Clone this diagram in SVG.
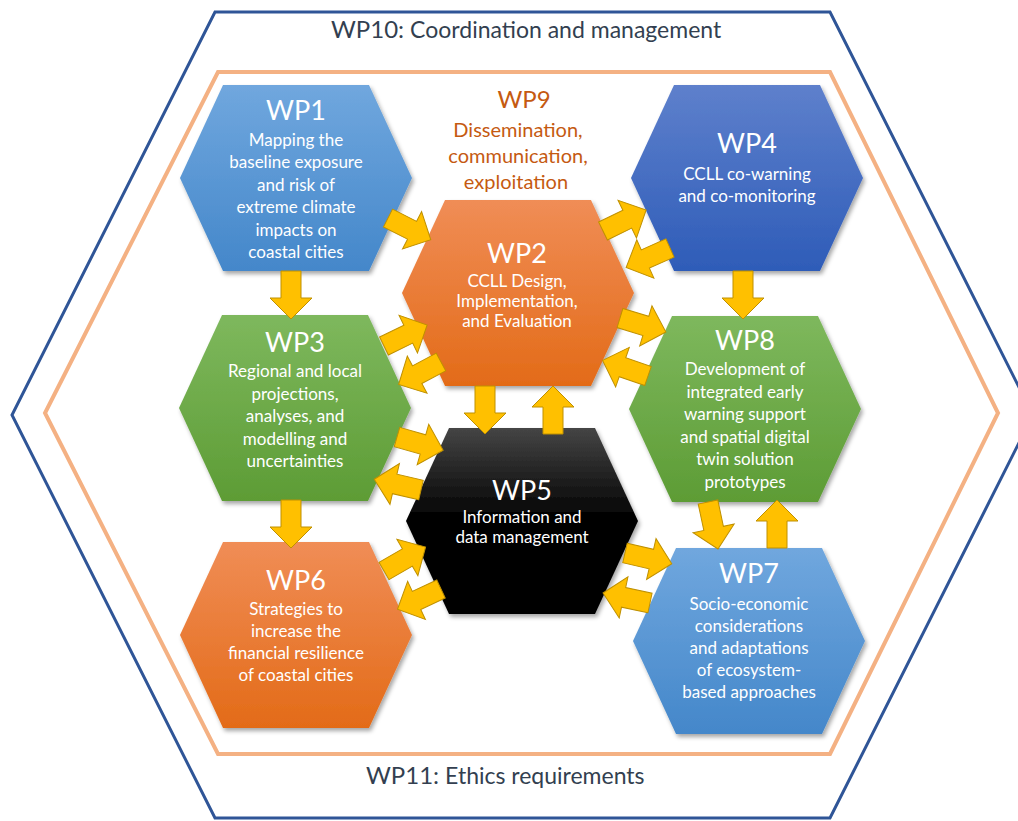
<svg xmlns="http://www.w3.org/2000/svg" xmlns:xlink="http://www.w3.org/1999/xlink" width="1018" height="821" viewBox="0 0 1018 821">
<style>
.frame{fill:none;stroke-linejoin:miter}
.outer{stroke:#2F5597;stroke-width:3}
.inner{stroke:#F4B183;stroke-width:4}
.hex{filter:url(#sh)}
.t{font-family:Lato,"Open Sans","Liberation Sans",sans-serif;fill:#fff;text-anchor:middle}
.ti{font-size:27px}
.b{font-size:17px}
.wp9{font-family:Lato,"Open Sans","Liberation Sans",sans-serif;fill:#C55A11;text-anchor:middle;font-size:20px}
.wp9t{font-size:24px}
.hdr{font-family:Lato,"Open Sans","Liberation Sans",sans-serif;fill:#333F50}
.arr{fill:#FFC000;stroke:#BF9000;stroke-width:1;stroke-linejoin:miter}
</style>
<defs>
<filter id="sh" x="-10%" y="-10%" width="125%" height="125%">
<feDropShadow dx="2" dy="3" stdDeviation="2" flood-color="#000" flood-opacity="0.35"/>
</filter>
<linearGradient id="gBlue" x1="0" y1="0" x2="0" y2="1"><stop offset="0" stop-color="#70A7DE"/><stop offset="1" stop-color="#4487CA"/></linearGradient>
<linearGradient id="gDark" x1="0" y1="0" x2="0" y2="1"><stop offset="0" stop-color="#5E80CC"/><stop offset="1" stop-color="#2E5CB8"/></linearGradient>
<linearGradient id="gOr" x1="0" y1="0" x2="0" y2="1"><stop offset="0" stop-color="#F08D56"/><stop offset="1" stop-color="#E36B18"/></linearGradient>
<linearGradient id="gGr" x1="0" y1="0" x2="0" y2="1"><stop offset="0" stop-color="#7EB85D"/><stop offset="1" stop-color="#5D9C35"/></linearGradient>
<linearGradient id="gBk" x1="0" y1="0" x2="0" y2="1"><stop offset="0" stop-color="#454545"/><stop offset="0.5" stop-color="#000"/><stop offset="1" stop-color="#000"/></linearGradient>
<path id="arr" d="M0,-10 H27 V-21 L48,0 L27,21 V10 H0 Z"/>
</defs>

<g id="frames">
<polygon class="frame outer" points="215,12 830,12 1033,415 830,818 215,818 12,415"/>
<polygon class="frame inner" points="218,72 830,72 998,413 830,754 218,754 45,413"/>
<text class="hdr" x="331" y="38" font-size="24">WP10:<tspan font-size="23" dx="6">Coordination and management</tspan></text>
<text class="hdr" x="366" y="784" font-size="24">WP11:<tspan font-size="23" dx="6">Ethics requirements</tspan></text>
</g>

<g id="wp9">
<text class="wp9 wp9t" x="524" y="108">WP9</text>
<text class="wp9" x="518" y="137">Dissemination,</text>
<text class="wp9" x="518" y="163">communication,</text>
<text class="wp9" x="516" y="189">exploitation</text>
</g>

<g id="wp1">
<polygon class="hex" fill="url(#gBlue)" points="180,178 223,85 369,85 412,178 369,271 223,271"/>
<text class="t ti" x="296" y="120">WP1</text>
<text class="t b" x="296" y="146">Mapping the</text>
<text class="t b" x="296" y="168.4">baseline exposure</text>
<text class="t b" x="296" y="190.8">and risk of</text>
<text class="t b" x="296" y="213.2">extreme climate</text>
<text class="t b" x="296" y="235.6">impacts on</text>
<text class="t b" x="296" y="258">coastal cities</text>
</g>

<g id="wp2">
<polygon class="hex" fill="url(#gOr)" points="402,293 445,200 591,200 634,293 591,386 445,386"/>
<text class="t ti" x="517" y="263">WP2</text>
<text class="t b" x="517" y="287">CCLL Design,</text>
<text class="t b" x="517" y="307">Implementation,</text>
<text class="t b" x="517" y="327">and Evaluation</text>
</g>

<g id="wp4">
<polygon class="hex" fill="url(#gDark)" points="631,178 674,85 820,85 863,178 820,271 674,271"/>
<text class="t ti" x="747" y="153">WP4</text>
<text class="t b" x="747" y="180">CCLL co-warning</text>
<text class="t b" x="747" y="202">and co-monitoring</text>
</g>

<g id="wp3">
<polygon class="hex" fill="url(#gGr)" points="179,408 222,315 368,315 411,408 368,501 222,501"/>
<text class="t ti" x="295" y="352">WP3</text>
<text class="t b" x="295" y="377">Regional and local</text>
<text class="t b" x="295" y="399.5">projections,</text>
<text class="t b" x="295" y="422">analyses, and</text>
<text class="t b" x="295" y="444.5">modelling and</text>
<text class="t b" x="295" y="467">uncertainties</text>
</g>

<g id="wp8">
<polygon class="hex" fill="url(#gGr)" points="629,409 672,316 818,316 861,409 818,502 672,502"/>
<text class="t ti" x="745" y="350">WP8</text>
<text class="t b" x="745" y="375">Development of</text>
<text class="t b" x="745" y="397.5">integrated early</text>
<text class="t b" x="745" y="420">warning support</text>
<text class="t b" x="745" y="442.5">and spatial digital</text>
<text class="t b" x="745" y="465">twin solution</text>
<text class="t b" x="745" y="487.5">prototypes</text>
</g>

<g id="wp5">
<polygon class="hex" fill="url(#gBk)" points="406,521 449,428 595,428 638,521 595,614 449,614"/>
<text class="t ti" x="522" y="500">WP5</text>
<text class="t b" x="522" y="523">Information and</text>
<text class="t b" x="522" y="543">data management</text>
</g>

<g id="wp6">
<polygon class="hex" fill="url(#gOr)" points="180,635 223,542 369,542 412,635 369,728 223,728"/>
<text class="t ti" x="296" y="590">WP6</text>
<text class="t b" x="296" y="614.5">Strategies to</text>
<text class="t b" x="296" y="636.8">increase the</text>
<text class="t b" x="296" y="659">financial resilience</text>
<text class="t b" x="296" y="681.3">of coastal cities</text>
</g>

<g id="wp7">
<polygon class="hex" fill="url(#gBlue)" points="633,641 676,548 822,548 865,641 822,734 676,734"/>
<text class="t ti" x="749" y="583">WP7</text>
<text class="t b" x="749" y="610">Socio-economic</text>
<text class="t b" x="749" y="632">considerations</text>
<text class="t b" x="749" y="654">and adaptations</text>
<text class="t b" x="749" y="676">of ecosystem-</text>
<text class="t b" x="749" y="698">based approaches</text>
</g>

<g id="connectors">
<use href="#arr" class="arr" transform="translate(388,218) rotate(27)"/>
<use href="#arr" class="arr" transform="translate(291,271) rotate(90)"/>
<use href="#arr" class="arr" transform="translate(603,231) rotate(-26)"/>
<use href="#arr" class="arr" transform="translate(670,248) rotate(156)"/>
<use href="#arr" class="arr" transform="translate(743,271) rotate(90)"/>
<use href="#arr" class="arr" transform="translate(620,318) rotate(17)"/>
<use href="#arr" class="arr" transform="translate(648,376) rotate(199)"/>
<use href="#arr" class="arr" transform="translate(384,346) rotate(-26)"/>
<use href="#arr" class="arr" transform="translate(441,362) rotate(152)"/>
<use href="#arr" class="arr" transform="translate(485,386) rotate(90)"/>
<use href="#arr" class="arr" transform="translate(553,434) rotate(-90)"/>
<use href="#arr" class="arr" transform="translate(397,437) rotate(16)"/>
<use href="#arr" class="arr" transform="translate(421,490) rotate(193)"/>
<use href="#arr" class="arr" transform="translate(291,500) rotate(90)"/>
<use href="#arr" class="arr" transform="translate(384,571) rotate(-30)"/>
<use href="#arr" class="arr" transform="translate(441,589) rotate(155)"/>
<use href="#arr" class="arr" transform="translate(625,553) rotate(13)"/>
<use href="#arr" class="arr" transform="translate(650,603) rotate(192)"/>
<use href="#arr" class="arr" transform="translate(708,502) rotate(78)"/>
<use href="#arr" class="arr" transform="translate(777,548) rotate(-90)"/>
</g>
</svg>
